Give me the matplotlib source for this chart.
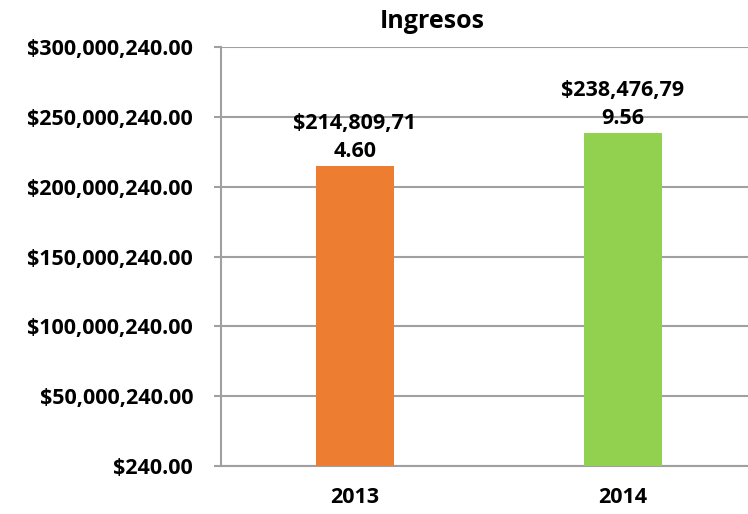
import matplotlib
matplotlib.use("Agg")
import matplotlib.pyplot as plt
from matplotlib.ticker import FixedLocator

categories = ["2013", "2014"]
values = [214809714.60, 238476799.56]
label_lines = [["$214,809,71", "4.60"], ["$238,476,79", "9.56"]]
bar_colors = ["#ED7D31", "#92D050"]
yticks = [240, 50000240, 100000240, 150000240, 200000240, 250000240, 300000240]
ytick_labels = ["$240.00", "$50,000,240.00", "$100,000,240.00", "$150,000,240.00",
                "$200,000,240.00", "$250,000,240.00", "$300,000,240.00"]
title = "Ingresos"

plt.rcParams['font.family'] = ['Open Sans', 'DejaVu Sans']
W, H = 748, 514
fig = plt.figure(figsize=(W / 100, H / 100), dpi=100)
left, right, top, bottom = 221, 757, 47, 466
ax = fig.add_axes([left / W, 1 - bottom / H, (right - left) / W, (bottom - top) / H])

x = list(range(len(categories)))
bars = ax.bar(x, values, width=0.29, color=bar_colors, zorder=3)
ax.set_xlim(-0.5, 1.5)
ax.set_ylim(yticks[0], yticks[-1])
ax.yaxis.set_major_locator(FixedLocator(yticks))
fs = 15.5
ax.set_yticklabels(ytick_labels, fontsize=fs, fontweight='bold')
ax.set_xticks(x)
ax.set_xticklabels(categories, fontsize=fs, fontweight='bold')
ax.tick_params(axis='x', length=0, pad=15)
ax.tick_params(axis='y', length=5, width=1.5, color='#a0a0a0', pad=15)
ax.grid(axis='y', color='#a0a0a0', linewidth=1.5, zorder=0)
for s in ['top', 'right']:
    ax.spines[s].set_visible(False)
for s in ['left', 'bottom']:
    ax.spines[s].set_color('#a0a0a0')
    ax.spines[s].set_linewidth(1.5)

for xi, v, lines in zip(x, values, label_lines):
    ax.annotate("\n".join(lines), (xi, v), xytext=(0, 3), textcoords='offset points',
                ha='center', va='bottom', fontsize=fs, fontweight='bold',
                linespacing=1.45, zorder=4)

fig.text(432 / W, 1 - 21 / H, title, ha='center', va='center', fontsize=18, fontweight='bold')
fig.savefig("out.png", dpi=100)
